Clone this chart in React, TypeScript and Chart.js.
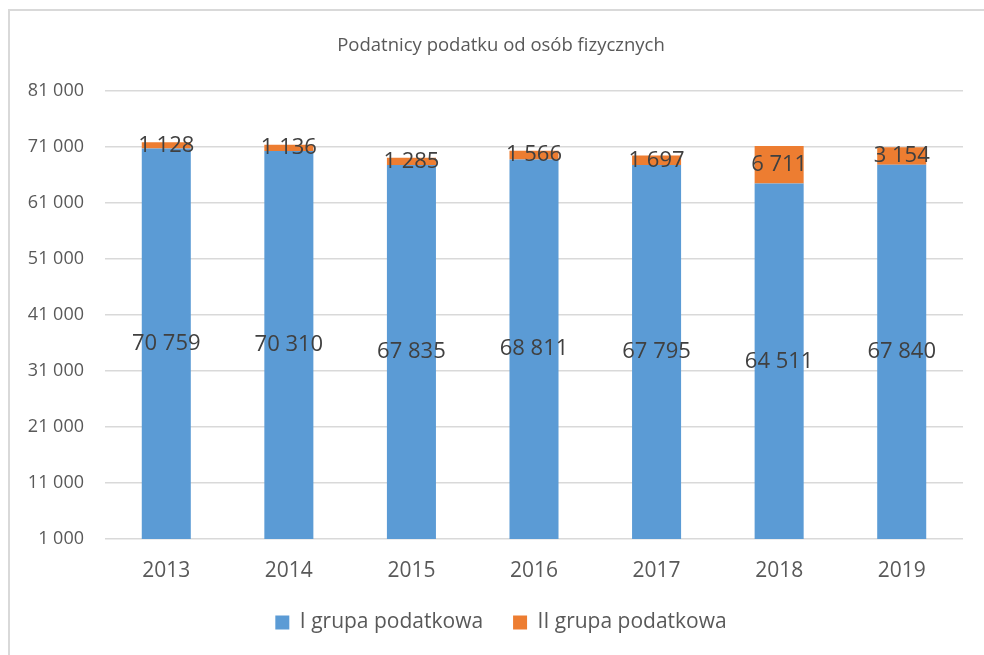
import React, { useEffect, useRef } from "react";
import { Chart, registerables } from "chart.js";

Chart.register(...registerables);

const years = ["2013", "2014", "2015", "2016", "2017", "2018", "2019"];
const groupI = [70759, 70310, 67835, 68811, 67795, 64511, 67840];
const groupII = [1128, 1136, 1285, 1566, 1697, 6711, 3154];
const seriesNames = ["I grupa podatkowa", "II grupa podatkowa"];
const titleText = "Podatnicy podatku od osób fizycznych";
const yMin = 1000;
const yMax = 81000;
const yStep = 10000;

const FONT = "'Open Sans', 'Liberation Sans', sans-serif";

const fmt = (v: number) =>
  String(v).replace(/\B(?=(\d{3})+(?!\d))/g, " ");

const labelPlugin = {
  id: "segLabels",
  afterDatasetsDraw(chart: any) {
    const ctx = chart.ctx;
    ctx.save();
    ctx.font = `22px ${FONT}`;
    ctx.fillStyle = "#404040";
    ctx.textAlign = "center";
    ctx.textBaseline = "middle";
    chart.data.datasets.forEach((ds: any, i: number) => {
      const meta = chart.getDatasetMeta(i);
      meta.data.forEach((el: any, j: number) => {
        const p = el.getProps(["x", "y", "base"], true);
        const bottom = Math.min(p.base, chart.chartArea.bottom);
        const top = Math.max(p.y, chart.chartArea.top);
        ctx.fillText(fmt(ds.data[j]), p.x, (top + bottom) / 2);
      });
    });
    ctx.restore();
  },
};

export default function App() {
  const ref = useRef<HTMLCanvasElement>(null);
  useEffect(() => {
    document.body.style.margin = "0";
    const chart = new Chart(ref.current!, {
      type: "bar",
      data: {
        labels: years,
        datasets: [
          {
            label: seriesNames[0],
            data: groupI,
            backgroundColor: "#5B9BD5",
            barPercentage: 0.4,
            categoryPercentage: 1,
          },
          {
            label: seriesNames[1],
            data: groupII,
            backgroundColor: "#ED7D31",
            barPercentage: 0.4,
            categoryPercentage: 1,
          },
        ],
      },
      options: {
        responsive: false,
        animation: false,
        devicePixelRatio: 1,
        layout: { padding: { left: 18, right: 0, top: 0, bottom: 12 } },
        plugins: {
          title: {
            display: true,
            text: titleText,
            color: "#595959",
            font: { family: FONT, size: 18.5, weight: "normal" },
            padding: { top: 35, bottom: 34 },
          },
          legend: {
            position: "bottom",
            labels: {
              boxWidth: 14,
              boxHeight: 14,
              color: "#595959",
              font: { family: FONT, size: 21 },
              padding: 30,
            },
          },
          tooltip: { enabled: false },
        },
        scales: {
          x: {
            stacked: true,
            grid: { display: false, drawTicks: false },
            border: { display: false },
            ticks: {
              color: "#595959",
              font: { family: FONT, size: 21 },
              padding: 19,
            },
            afterFit(scale: any) {
              scale.height = 43;
            },
          },
          y: {
            stacked: true,
            min: yMin,
            max: yMax,
            grid: { color: "#d9d9d9", lineWidth: 1.5, drawTicks: false },
            border: { display: false },
            ticks: {
              stepSize: yStep,
              color: "#595959",
              font: { family: FONT, size: 18 },
              padding: 21,
              callback: (v: any) => fmt(Number(v)),
            },
            afterFit(scale: any) {
              scale.width = 87;
            },
          },
          yRight: {
            position: "right",
            display: true,
            min: yMin,
            max: yMax,
            grid: { display: false, drawTicks: false },
            border: { display: false },
            ticks: { display: false },
            afterFit(scale: any) {
              scale.width = 21;
            },
          },
        },
      },
      plugins: [labelPlugin],
    });
    return () => chart.destroy();
  }, []);

  return (
    <div style={{ position: "relative", width: 984, height: 655, overflow: "hidden", background: "#fff" }}>
      <div
        style={{
          position: "absolute",
          left: 8,
          top: 9,
          width: 1100,
          height: 800,
          borderLeft: "2px solid #d9d9d9",
          borderTop: "2px solid #d9d9d9",
        }}
      />
      <canvas ref={ref} width={984} height={655} style={{ position: "absolute", left: 0, top: 0, display: "block" }} />
    </div>
  );
}
